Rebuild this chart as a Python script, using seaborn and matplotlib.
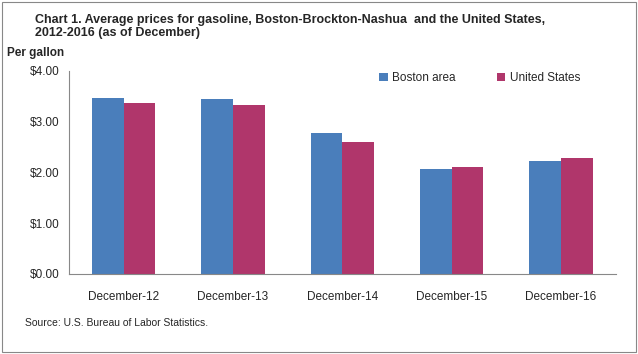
import pandas as pd
import matplotlib.pyplot as plt
import seaborn as sns
from matplotlib.ticker import FixedLocator

# Data
periods = ['December-12', 'December-13', 'December-14', 'December-15', 'December-16']
boston = [3.47, 3.45, 2.78, 2.07, 2.23]
united_states = [3.37, 3.33, 2.60, 2.11, 2.29]
series_names = ['Boston area', 'United States']
colors = ['#4A7EBB', '#B0366B']

df = pd.DataFrame({
    'Period': periods * 2,
    'Price': boston + united_states,
    'Series': [series_names[0]] * len(periods) + [series_names[1]] * len(periods),
})

sns.set_style("white")
plt.rcParams['font.family'] = ['Liberation Sans', 'DejaVu Sans']

fig = plt.figure(figsize=(6.38, 3.54), dpi=100)
ax = fig.add_axes([0.108, 0.226, 0.857, 0.574])

sns.barplot(data=df, x='Period', y='Price', hue='Series', palette=colors,
            width=0.58, saturation=1, linewidth=0, ax=ax)

ax.set_ylim(0, 4)
ax.set_xlim(-0.5, len(periods) - 0.5)
ax.set_yticks([0, 1, 2, 3, 4])
ax.set_yticklabels([f'${v:.2f}' for v in [0, 1, 2, 3, 4]], fontsize=8.5)
ax.set_xticks(range(len(periods)))
ax.set_xticklabels(periods, fontsize=8.5)
ax.tick_params(axis='x', which='major', length=0, pad=12)
ax.xaxis.set_minor_locator(FixedLocator([i - 0.5 for i in range(len(periods) + 1)]))
ax.tick_params(axis='x', which='minor', length=4, color='#888888', direction='out')
ax.tick_params(axis='y', length=4, color='#888888', direction='out', pad=3)
ax.set_xlabel('')
ax.set_ylabel('')
for side in ['top', 'right']:
    ax.spines[side].set_visible(False)
for side in ['left', 'bottom']:
    ax.spines[side].set_color('#888888')
    ax.spines[side].set_linewidth(0.8)

ax.legend(loc='upper right', bbox_to_anchor=(0.955, 1.045), ncol=2, frameon=False,
          fontsize=8.5, handlelength=0.7, handleheight=0.7, columnspacing=3.5,
          handletextpad=0.4)

fig.text(0.055, 0.96, 'Chart 1. Average prices for gasoline, Boston-Brockton-Nashua  and the United States,\n2012-2016 (as of December)',
         fontsize=9, fontweight='bold', va='top', ha='left', linespacing=1.1)
fig.text(0.011, 0.85, 'Per gallon', fontsize=8.5, fontweight='bold', va='center', ha='left')
fig.text(0.039, 0.088, 'Source: U.S. Bureau of Labor Statistics.', fontsize=7.5, va='center', ha='left')

fig.patches.append(plt.Rectangle((0.003, 0.005), 0.994, 0.99, transform=fig.transFigure,
                                 fill=False, edgecolor='#888888', linewidth=0.8))

plt.savefig('out.png', dpi=100)
